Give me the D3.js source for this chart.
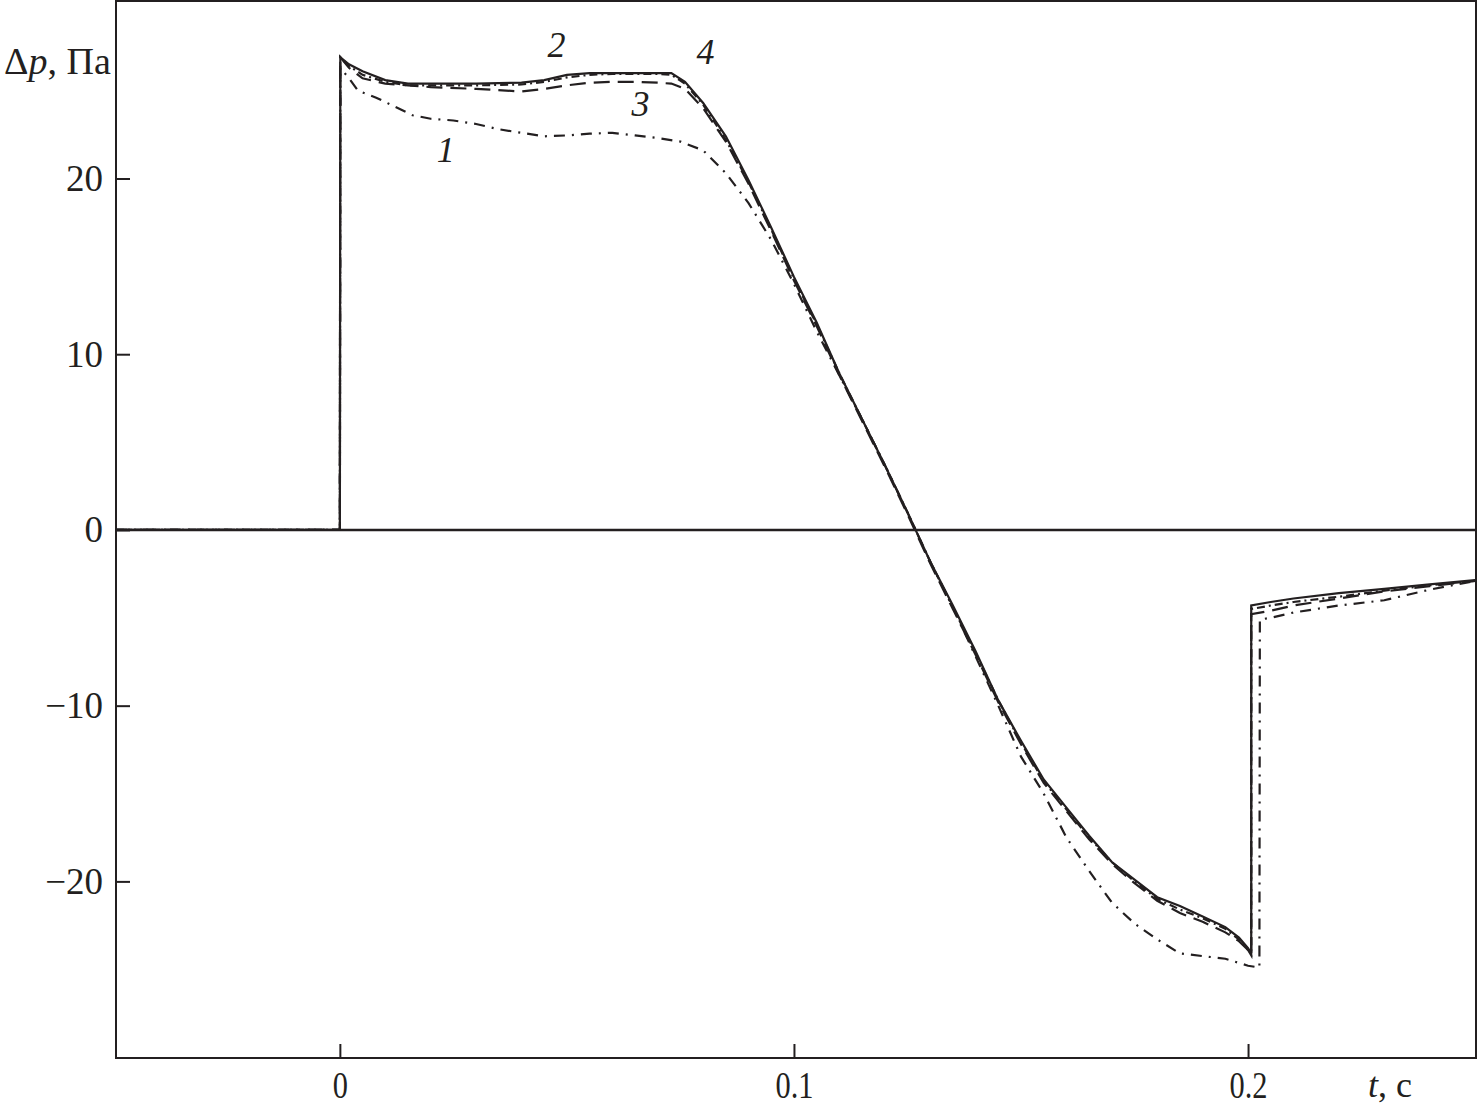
<!DOCTYPE html>
<html lang="ru">
<head>
    <meta charset="utf-8">
    <title>Δp(t)</title>
    <script src="https://d3js.org/d3.v7.min.js"></script>
    <style>
        body { margin: 0; background: #fff; }
        text { font-family: "Liberation Serif", "DejaVu Serif", serif; fill: #231f20; }
    </style>
</head>
<body>
    <div id="chart"></div>
    <script>

        // time grid shared by curves 2, 3, 4 (s)
        const tMain = [-0.0493, 0, 0.0001, 0.002, 0.005, 0.01, 0.015, 0.02, 0.03, 0.04, 0.045, 0.05, 0.055,
            0.06, 0.065, 0.07, 0.073, 0.076, 0.08, 0.085, 0.09, 0.095, 0.1, 0.105, 0.11, 0.115, 0.12, 0.125,
            0.13, 0.135, 0.14, 0.145, 0.15, 0.155, 0.16, 0.165, 0.17, 0.175, 0.18, 0.185, 0.19, 0.195, 0.198,
            0.2, 0.2007, 0.2007, 0.205, 0.21, 0.22, 0.23, 0.24, 0.25];

        // curve 2 (solid)
        const p2 = [0, 0, 26.9, 26.5, 26.1, 25.6, 25.4, 25.4, 25.4, 25.45, 25.6, 25.9, 26.0,
            26.0, 26.0, 26.0, 26.0, 25.5, 24.3, 22.4, 19.9, 17.2, 14.4, 11.8, 8.9, 6.3, 3.7, 1.0,
            -1.8, -4.3, -6.9, -9.7, -12.0, -14.2, -15.8, -17.4, -18.9, -19.9, -20.9, -21.4, -22.0, -22.6, -23.2,
            -23.8, -24.1, -4.3, -4.1, -3.9, -3.6, -3.35, -3.1, -2.85];

        // curve 3 (long dash)
        const p3 = [0, 0, 26.9, 26.3, 25.7, 25.4, 25.3, 25.2, 25.1, 24.95, 25.1, 25.3, 25.45,
            25.5, 25.5, 25.45, 25.4, 25.1, 24.0, 22.1, 19.7, 17.0, 14.2, 11.6, 8.8, 6.2, 3.6, 0.9,
            -1.9, -4.5, -7.1, -9.8, -12.2, -14.4, -16.0, -17.6, -19.0, -20.1, -21.1, -21.8, -22.3, -22.9, -23.4,
            -23.9, -24.2, -4.8, -4.6, -4.3, -3.9, -3.5, -3.2, -2.9];

        // curve 4 (dash-dot)
        const p4 = [0, 0, 26.9, 26.4, 25.9, 25.5, 25.3, 25.3, 25.3, 25.35, 25.5, 25.75, 25.9,
            25.95, 25.95, 25.95, 25.9, 25.4, 24.2, 22.2, 19.8, 17.1, 14.3, 11.7, 8.9, 6.3, 3.7, 1.0,
            -1.8, -4.4, -7.0, -9.7, -12.1, -14.3, -15.9, -17.5, -18.9, -20.0, -21.0, -21.6, -22.1, -22.7, -23.3,
            -23.9, -24.2, -4.5, -4.3, -4.1, -3.8, -3.45, -3.15, -2.9];

        // curve 1 has its own time grid (later jump near 0.2 s)
        const t1 = [-0.0493, 0, 0.0001, 0.002, 0.004, 0.008, 0.012, 0.016, 0.02, 0.025, 0.03, 0.035, 0.04,
            0.045, 0.05, 0.055, 0.06, 0.065, 0.07, 0.075, 0.08, 0.085, 0.09, 0.095, 0.1, 0.105, 0.11, 0.115,
            0.12, 0.125, 0.13, 0.135, 0.14, 0.145, 0.15, 0.155, 0.16, 0.165, 0.17, 0.175, 0.18, 0.185, 0.19,
            0.195, 0.2, 0.2025, 0.2026, 0.205, 0.21, 0.22, 0.23, 0.24, 0.25];
        const p1 = [0, 0, 26.3, 25.7, 25.0, 24.6, 24.1, 23.6, 23.4, 23.3, 23.1, 22.8, 22.6,
            22.4, 22.45, 22.55, 22.6, 22.45, 22.3, 22.1, 21.6, 20.3, 18.6, 16.5, 14.0, 11.3, 8.8, 6.3,
            3.7, 1.0, -1.8, -4.4, -7.2, -10.0, -12.9, -15.0, -17.5, -19.4, -21.2, -22.4, -23.3, -24.1, -24.25,
            -24.4, -24.8, -24.9, -5.1, -5.0, -4.7, -4.3, -4.0, -3.4, -2.9];

        const xTicks = [0, 0.1, 0.2];
        const xTickLabels = ["0", "0.1", "0.2"];
        const yTicks = [-20, -10, 0, 10, 20];

        const curveNames = ["1", "2", "3", "4"];

        const W = 1478, H = 1111;
        const mLeft = 116, mRight = 1476, mTop = 1, mBottom = 1058;
        const ink = "#231f20";

        const x = d3.scaleLinear().domain([-0.0493, 0.2502]).range([mLeft, mRight]);
        const y = d3.scaleLinear().domain([-30.05, 30.1]).range([mBottom, mTop]);

        const svg = d3.select("#chart")
            .append("svg")
            .attr("width", W)
            .attr("height", H);

        // zero line
        svg.append("line")
            .attr("x1", mLeft).attr("x2", mRight)
            .attr("y1", y(0)).attr("y2", y(0))
            .attr("stroke", ink).attr("stroke-width", 2.5);

        const line = d3.line()
            .x(d => x(d[0]))
            .y(d => y(d[1]));

        const series = [
            { t: t1, p: p1, dash: "11,7,2,7" },
            { t: tMain, p: p3, dash: "16,8" },
            { t: tMain, p: p4, dash: "8,4,2,4" },
            { t: tMain, p: p2, dash: null }
        ];

        svg.selectAll("path.curve")
            .data(series)
            .enter()
                .append("path")
                .attr("class", "curve")
                .attr("d", s => line(d3.zip(s.t, s.p)))
                .attr("fill", "none")
                .attr("stroke", ink)
                .attr("stroke-width", 2.2)
                .attr("stroke-dasharray", s => s.dash);

        // axes (ticks point inward)
        const yAxis = d3.axisLeft(y)
            .tickValues(yTicks)
            .tickSize(-14)
            .tickPadding(13);
        const gy = svg.append("g")
            .attr("transform", `translate(${mLeft},0)`)
            .call(yAxis);

        const xAxis = d3.axisBottom(x)
            .tickValues(xTicks)
            .tickFormat((d, i) => xTickLabels[i])
            .tickSize(-14)
            .tickPadding(13);
        const gx = svg.append("g")
            .attr("transform", `translate(0,${mBottom})`)
            .call(xAxis);

        [gx, gy].forEach(g => {
            g.select(".domain").remove();
            g.selectAll(".tick line").attr("stroke", ink).attr("stroke-width", 2);
            g.selectAll(".tick text")
                .style("font-family", "'Liberation Serif', serif")
                .attr("fill", ink);
        });
        gy.selectAll(".tick text").style("font-size", "37px");
        // the time labels are set narrow in the original
        gx.selectAll(".tick text")
            .style("font-size", "38px")
            .attr("transform", "scale(0.8,1)");

        // frame
        svg.append("rect")
            .attr("x", mLeft).attr("y", mTop)
            .attr("width", mRight - mLeft).attr("height", mBottom - mTop)
            .attr("fill", "none")
            .attr("stroke", ink)
            .attr("stroke-width", 2);

        // axis titles
        const yTitle = svg.append("text")
            .attr("x", 4).attr("y", 74)
            .style("font-size", "38px");
        yTitle.append("tspan").text("Δ");
        yTitle.append("tspan").style("font-style", "italic").text("p");
        yTitle.append("tspan").text(", Па");

        const xTitle = svg.append("text")
            .attr("x", 1368).attr("y", 1097)
            .style("font-size", "36px");
        xTitle.append("tspan").style("font-style", "italic").text("t");
        xTitle.append("tspan").text(", с");

        // curve numbers
        const labelPos = [[0.0233, 21.6], [0.0477, 27.6], [0.0662, 24.25], [0.0805, 27.2]];
        svg.selectAll("text.num")
            .data(curveNames)
            .enter()
                .append("text")
                .attr("class", "num")
                .attr("x", (d, i) => x(labelPos[i][0]))
                .attr("y", (d, i) => y(labelPos[i][1]))
                .attr("text-anchor", "middle")
                .attr("dominant-baseline", "central")
                .style("font-size", "36px")
                .style("font-style", "italic")
                .text(d => d);

    </script>
</body>
</html>
